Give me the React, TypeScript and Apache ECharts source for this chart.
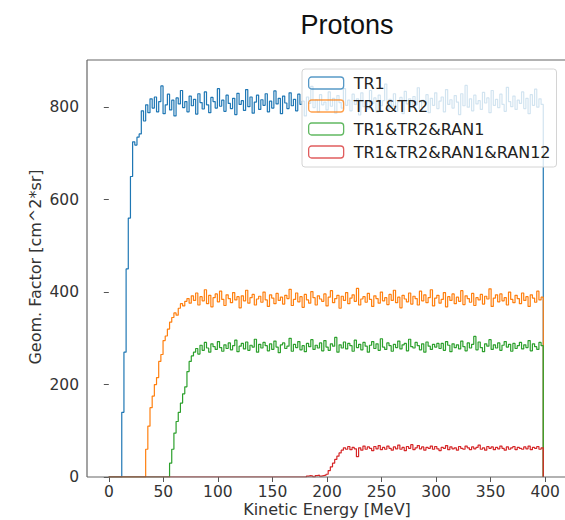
import React, { useEffect, useRef } from "react";
import * as echarts from "echarts";

// Histogram bins: 2 MeV wide, left edges 0..398
const BIN_WIDTH = 2;
const X_TICKS = [0, 50, 100, 150, 200, 250, 300, 350, 400];
const Y_TICKS = [0, 200, 400, 600, 800];

const seriesNames = ["TR1", "TR1&TR2", "TR1&TR2&RAN1", "TR1&TR2&RAN1&RAN12"];
const seriesColors = ["#1f77b4", "#ff7f0e", "#2ca02c", "#d62728"];

const tr1 = [
  0, 0, 0, 0, 0, 0, 140, 270, 450, 560,
  650, 725, 718, 735, 742, 792, 770, 805, 788, 818,
  798, 822, 790, 812, 846, 786, 805, 828, 794, 815,
  781, 820, 807, 836, 799, 812, 790, 824, 803, 817,
  785, 829, 810, 796, 833, 805, 788, 821, 812, 798,
  840, 802, 815, 791, 826, 808, 797, 819, 784, 830,
  806, 814, 793, 838, 801, 822, 787, 811, 826, 795,
  816, 804, 829, 790, 813, 798, 835, 807, 819, 786,
  824, 809, 797, 831, 803, 817, 792, 828, 806, 813,
  781, 822, 808, 845, 799, 816, 790, 827, 805, 811,
  794, 833, 802, 819, 787, 825, 810, 798, 840, 804,
  815, 792, 828, 806, 818, 783, 831, 801, 813, 796,
  836, 808, 820, 789, 826, 803, 814, 850, 795, 817,
  802, 829, 791, 812, 821, 786, 834, 807, 818, 799,
  823, 805, 842, 794, 815, 809, 827, 788, 819, 804,
  831, 797, 813, 822, 790, 838, 806, 816, 798, 825,
  811, 784, 829, 803, 847, 800, 818, 792, 826, 807,
  814, 795, 832, 809, 820, 788, 836, 804, 817, 799,
  828, 806, 791, 843, 812, 801, 824, 795, 815, 808,
  833, 797, 819, 786, 827, 804, 839, 800, 818, 806,
];

const tr1tr2 = [
  0, 0, 0, 0, 0, 0, 0, 0, 0, 0,
  0, 0, 0, 0, 0, 0, 0, 60, 110, 150,
  175, 200, 215, 250, 265, 295, 305, 320, 335, 345,
  355, 350, 365, 375, 370, 380, 386, 376, 392, 382,
  398, 372, 390, 381, 405, 375, 393, 368, 388, 396,
  379, 402, 384, 371, 394, 386, 377, 399, 383, 390,
  366, 392, 381, 404, 376, 388, 395, 372, 385, 391,
  378, 400, 383, 369, 394, 387, 375, 397, 382, 389,
  374, 393, 386, 406, 371, 384, 398, 379, 390, 367,
  395, 383, 376, 401, 388, 372, 392, 385, 380, 396,
  370, 389, 403, 377, 386, 393, 365, 391, 382, 399,
  375, 387, 394, 380, 408, 372, 385, 390, 378, 397,
  384, 369, 392, 386, 376, 400, 381, 388, 373, 395,
  382, 404, 377, 389, 366, 393, 385, 379, 398, 374,
  391, 386, 372, 402, 381, 394, 377, 388, 405, 370,
  387, 393, 376, 384, 399, 368, 390, 382, 396, 375,
  389, 380, 403, 373, 392, 386, 378, 397, 371, 388,
  383, 395, 374, 391, 385, 407, 369, 387, 394, 379,
  396, 381, 388, 372, 400, 384, 377, 393, 386, 375,
  398, 382, 390, 369, 394, 387, 378, 402, 383, 389,
];

const tr1tr2ran1 = [
  0, 0, 0, 0, 0, 0, 0, 0, 0, 0,
  0, 0, 0, 0, 0, 0, 0, 0, 0, 0,
  0, 0, 0, 0, 0, 0, 0, 0, 30, 60,
  95, 120, 140, 160, 180, 195, 228, 250, 262, 270,
  278, 266, 285, 274, 291, 279, 270, 288, 282, 276,
  293, 280, 272, 286, 278, 290, 275, 284, 296, 271,
  283, 289, 277, 292, 274, 285, 281, 298, 270, 287,
  279, 291, 284, 273, 288, 276, 294, 281, 269, 286,
  290, 278, 283, 300, 272, 287, 280, 293, 275, 284,
  271, 289, 282, 297, 276, 285, 279, 290, 273, 295,
  281, 274, 288, 283, 302, 270, 286, 279, 292, 277,
  289, 284, 272, 296, 280, 287, 275, 291, 283, 270,
  285, 293, 278, 288, 274, 299, 281, 276, 290, 284,
  272, 287, 280, 294, 277, 286, 289, 273, 298, 282,
  279, 291, 284, 275, 288, 270, 292, 283, 276, 287,
  281, 289, 278, 289, 274, 293, 285, 271, 288, 280,
  286, 277, 294, 282, 273, 290, 279, 287, 304, 275,
  292, 280, 271, 288, 283, 297, 276, 286, 279, 290,
  274, 285, 293, 281, 287, 272, 289, 278, 284, 291,
  277, 286, 280, 295, 273, 288, 282, 276, 291, 284,
];

const tr1tr2ran1ran12 = [
  0, 0, 0, 0, 0, 0, 0, 0, 0, 0,
  0, 0, 0, 0, 0, 0, 0, 0, 0, 0,
  0, 0, 0, 0, 0, 0, 0, 0, 0, 0,
  0, 0, 0, 0, 0, 0, 0, 0, 0, 0,
  0, 0, 0, 0, 0, 0, 0, 0, 0, 0,
  0, 0, 0, 0, 0, 0, 0, 0, 0, 0,
  0, 0, 0, 0, 0, 0, 0, 0, 0, 0,
  0, 0, 0, 0, 0, 0, 0, 0, 0, 0,
  0, 0, 0, 0, 0, 0, 0, 0, 0, 0,
  0, 2, 3, 2, 0, 3, 4, 2, 3, 4,
  6, 14, 22, 30, 38, 45, 52, 58, 63, 60,
  66, 59, 64, 61, 44, 63, 58, 67, 60, 65,
  62, 57, 66, 61, 68, 59, 64, 60, 67, 62,
  58, 65, 61, 69, 60, 64, 57, 66, 62, 70,
  59, 63, 68, 61, 65, 58, 64, 62, 67, 60,
  66, 61, 57, 64, 62, 68, 59, 65, 61, 63,
  58, 66, 62, 60, 67, 63, 59, 65, 61, 64,
  69, 60, 63, 58, 66, 62, 65, 59, 64, 61,
  67, 62, 58, 65, 60, 63, 66, 59, 64, 62,
  60, 65, 61, 67, 59, 64, 62, 66, 60, 63,
];

const allValues = [tr1, tr1tr2, tr1tr2ran1, tr1tr2ran1ran12];

// Layout
const GRID_LEFT = 87;
const GRID_TOP = 60;
const GRID_W = 480;
const GRID_H = 417;
const X_MIN = -20;
const X_MAX = 420;
const Y_MAX = 902;
const SPINE = "#666";

function stepData(vals: number[]) {
  const pts: number[][] = vals.map((v, i) => [i * BIN_WIDTH, v]);
  const end = vals.length * BIN_WIDTH;
  pts.push([end, vals[vals.length - 1]]);
  pts.push([end, 0]);
  return pts;
}

const FONT = "DejaVu Sans";

export default function App() {
  const ref = useRef<HTMLDivElement>(null);
  useEffect(() => {
    if (!ref.current) return;
    const chart = echarts.init(ref.current, undefined, { renderer: "svg" });
    const pxPerX = GRID_W / (X_MAX - X_MIN);
    const pxPerY = GRID_H / Y_MAX;
    const tickLeft = GRID_LEFT + (X_TICKS[0] - X_MIN) * pxPerX;
    const tickW = (X_TICKS[X_TICKS.length - 1] - X_TICKS[0]) * pxPerX;
    const yTop = Y_TICKS[Y_TICKS.length - 1];
    const tickH = yTop * pxPerY;
    const bottom = GRID_TOP + GRID_H;
    const tickTop = bottom - tickH;
    const right = GRID_LEFT + GRID_W;
    const option: any = {
      animation: false,
      backgroundColor: "#ffffff",
      title: {
        text: "Protons",
        left: 342,
        top: 6,
        textAlign: "center",
        textStyle: { fontFamily: "Liberation Sans", fontSize: 27, fontWeight: "normal", color: "#111" },
      },
      grid: [
        { left: GRID_LEFT, top: GRID_TOP, width: GRID_W, height: GRID_H, show: false },
        { left: tickLeft, top: tickTop, width: tickW, height: tickH, show: false },
      ],
      xAxis: [
        { type: "value", gridIndex: 0, min: X_MIN, max: X_MAX, show: false },
        {
          type: "value", gridIndex: 1, min: X_TICKS[0], max: X_TICKS[X_TICKS.length - 1], interval: 50,
          axisLine: { show: false },
          axisTick: { show: true, length: 5, lineStyle: { color: "#555", width: 1 } },
          axisLabel: { margin: 7, fontFamily: FONT, fontSize: 15.5, color: "#333" },
          splitLine: { show: false },
        },
      ],
      yAxis: [
        { type: "value", gridIndex: 0, min: 0, max: Y_MAX, show: false },
        {
          type: "value", gridIndex: 1, min: 0, max: yTop, interval: 200, offset: tickLeft - GRID_LEFT,
          axisLine: { show: false },
          axisTick: { show: true, length: 5, lineStyle: { color: "#555", width: 1 } },
          axisLabel: { margin: 8, fontFamily: FONT, fontSize: 15.5, color: "#333" },
          splitLine: { show: false },
        },
      ],
      legend: {
        orient: "vertical",
        left: 302,
        top: 69,
        padding: [6, 6, 7, 6],
        itemGap: 7,
        itemWidth: 35,
        itemHeight: 12,
        icon: "roundRect",
        z: 20,
        backgroundColor: "rgba(255,255,255,0.8)",
        borderColor: "#d4d4d4",
        borderWidth: 1,
        borderRadius: 3,
        textStyle: { fontFamily: FONT, fontSize: 16, color: "#222", padding: [0, 0, 0, 5] },
        data: seriesNames.map((n, i) => ({
          name: n,
          itemStyle: { color: "rgba(255,255,255,0)", borderColor: seriesColors[i], borderWidth: 1.3, opacity: 0.75 },
        })),
      },
      graphic: [
        {
          type: "line", z: 10, silent: true,
          shape: { x1: GRID_LEFT, y1: bottom, x2: right, y2: bottom },
          style: { stroke: SPINE, lineWidth: 1.2 },
        },
        {
          type: "line", z: 10, silent: true,
          shape: { x1: GRID_LEFT, y1: GRID_TOP, x2: GRID_LEFT, y2: bottom },
          style: { stroke: SPINE, lineWidth: 1.2 },
        },
        {
          type: "line", z: 10, silent: true,
          shape: { x1: GRID_LEFT, y1: GRID_TOP, x2: right, y2: GRID_TOP },
          style: { stroke: SPINE, lineWidth: 1.2 },
        },
        {
          type: "text",
          style: { text: "Kinetic Energy [MeV]", x: GRID_LEFT + GRID_W / 2, y: 509, fontFamily: FONT, fontSize: 16, fill: "#333", align: "center", verticalAlign: "middle" },
        },
        {
          type: "text",
          x: 35,
          y: 267,
          rotation: Math.PI / 2,
          style: { text: "Geom. Factor [cm^2*sr]", x: 0, y: 0, fontFamily: FONT, fontSize: 16, fill: "#333", align: "center", verticalAlign: "middle" },
        },
      ],
      series: allValues.map((vals, i) => ({
        name: seriesNames[i],
        type: "line",
        xAxisIndex: 0,
        yAxisIndex: 0,
        step: "end",
        showSymbol: false,
        symbol: "none",
        clip: true,
        color: seriesColors[i],
        lineStyle: { color: seriesColors[i], width: 1.2 },
        data: stepData(vals),
        z: 2 + i,
      })),
    };
    chart.setOption(option);
    return () => chart.dispose();
  }, []);
  return (
    <div
      ref={ref}
      style={{ position: "absolute", left: 0, top: 0, width: 565, height: 520 }}
    />
  );
}
